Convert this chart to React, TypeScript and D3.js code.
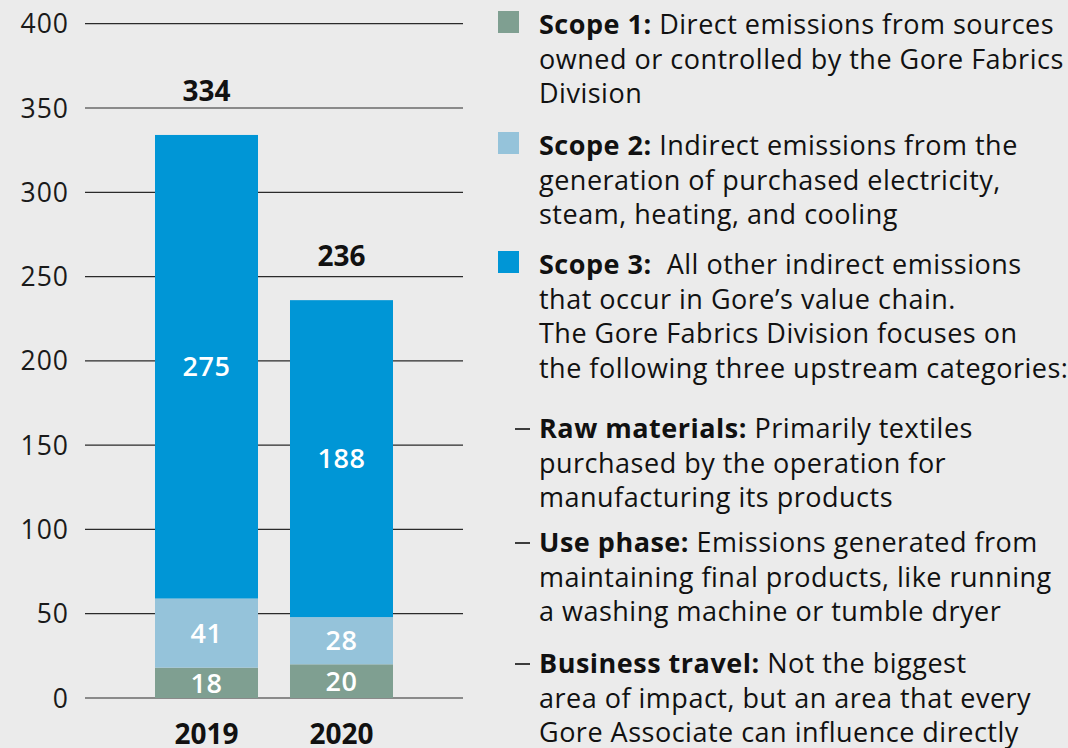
import React, { useEffect, useRef } from "react";
import * as d3 from "d3";

const years = ["2019", "2020"];
const scope1 = [18, 20];
const scope2 = [41, 28];
const scope3 = [275, 188];
const totals = [334, 236];
const yTicks = [0, 50, 100, 150, 200, 250, 300, 350, 400];
const seriesNames = ["Scope 1", "Scope 2", "Scope 3"];
const seriesColors = ["#7f9f91", "#95c3da", "#0096d6"];

const legendBlocks = [
  { key: "Scope 1", marker: "square", bold: "Scope 1:", lines: [" Direct emissions from sources", "owned or controlled by the Gore Fabrics", "Division"] },
  { key: "Scope 2", marker: "square", bold: "Scope 2:", lines: [" Indirect emissions from the", "generation of purchased electricity,", "steam, heating, and cooling"] },
  { key: "Scope 3", marker: "square", bold: "Scope 3:", lines: ["  All other indirect emissions", "that occur in Gore\u2019s value chain.", "The Gore Fabrics Division focuses on", "the following three upstream categories:"] },
  { key: "raw", marker: "dash", bold: "Raw materials:", lines: [" Primarily textiles", "purchased by the operation for", "manufacturing its products"] },
  { key: "use", marker: "dash", bold: "Use phase:", lines: [" Emissions generated from", "maintaining final products, like running", "a washing machine or tumble dryer"] },
  { key: "travel", marker: "dash", bold: "Business travel:", lines: [" Not the biggest", "area of impact, but an area that every", "Gore Associate can influence directly"] },
];

const W = 1068;
const H = 748;
const FONT = "'Open Sans', Roboto, sans-serif";

const App = () => {
  const ref = useRef<SVGSVGElement>(null);

  useEffect(() => {
    const svg = d3.select(ref.current);
    svg.selectAll("*").remove();

    svg.append("rect").attr("width", W).attr("height", H).attr("fill", "#ebebeb");

    const y = d3.scaleLinear().domain([0, 400]).range([698, 23.7]);
    const x = d3.scaleBand().domain(years).range([87.5, 460.5]).paddingInner(0.237).paddingOuter(0.5);

    // gridlines
    const grid = svg.append("g").attr("font-family", FONT);
    grid
      .selectAll("line")
      .data(yTicks)
      .join("line")
      .attr("x1", 85)
      .attr("x2", 463)
      .attr("y1", (d) => y(d))
      .attr("y2", (d) => y(d))
      .attr("stroke", "#2a2a2a")
      .attr("stroke-width", 1.2);
    grid
      .selectAll("text")
      .data(yTicks)
      .join("text")
      .attr("x", 69)
      .attr("y", (d) => y(d))
      .attr("dy", "0.36em")
      .attr("text-anchor", "end")
      .attr("font-size", 26.5)
      .attr("letter-spacing", 1)
      .attr("fill", "#1a1a1a")
      .text((d) => d);

    // stacked bars
    const rows = years.map((yr, i) => ({ year: yr, "Scope 1": scope1[i], "Scope 2": scope2[i], "Scope 3": scope3[i] }));
    const stack = d3.stack<any>().keys(seriesNames)(rows);
    const color = d3.scaleOrdinal<string>().domain(seriesNames).range(seriesColors);

    const layers = svg.append("g").selectAll("g").data(stack).join("g").attr("fill", (d) => color(d.key));
    layers
      .selectAll("rect")
      .data((d) => d)
      .join("rect")
      .attr("x", (d: any) => x(d.data.year)!)
      .attr("width", x.bandwidth())
      .attr("y", (d) => y(d[1]))
      .attr("height", (d) => y(d[0]) - y(d[1]));

    layers
      .selectAll("text")
      .data((d) => d)
      .join("text")
      .attr("x", (d: any) => x(d.data.year)! + x.bandwidth() / 2)
      .attr("y", (d) => (y(d[0]) + y(d[1])) / 2)
      .attr("dy", "0.36em")
      .attr("text-anchor", "middle")
      .attr("font-family", FONT)
      .attr("font-size", 27)
      .attr("letter-spacing", 0.6)
      .attr("font-weight", 600)
      .attr("fill", "#ffffff")
      .text((d) => d[1] - d[0]);

    // totals
    svg
      .append("g")
      .selectAll("text")
      .data(years)
      .join("text")
      .attr("x", (d) => x(d)! + x.bandwidth() / 2)
      .attr("y", (d, i) => y(totals[i]) - 34)
      .attr("text-anchor", "middle")
      .attr("font-family", FONT)
      .attr("font-size", 28)
      .attr("font-weight", 700)
      .attr("fill", "#111")
      .text((d, i) => totals[i]);

    // x labels
    svg
      .append("g")
      .selectAll("text")
      .data(years)
      .join("text")
      .attr("x", (d) => x(d)! + x.bandwidth() / 2)
      .attr("y", 744)
      .attr("text-anchor", "middle")
      .attr("font-family", FONT)
      .attr("font-size", 28)
      .attr("font-weight", 700)
      .attr("fill", "#111")
      .text((d) => d);

    // legend / notes
    const starts = [34, 155, 274, 438, 552, 673];
    const lh = 34.5;
    const leg = svg
      .append("g")
      .attr("font-family", FONT)
      .attr("font-size", 27)
      .attr("letter-spacing", 0.5)
      .attr("fill", "#111");
    legendBlocks.forEach((b, bi) => {
      const y0 = starts[bi];
      if (b.marker === "square") {
        leg
          .append("rect")
          .attr("x", 498)
          .attr("y", y0 - 23)
          .attr("width", 21)
          .attr("height", 22)
          .attr("fill", color(b.key));
      } else {
        leg
          .append("line")
          .attr("x1", 515)
          .attr("x2", 530)
          .attr("y1", y0 - 9)
          .attr("y2", y0 - 9)
          .attr("stroke", "#111")
          .attr("stroke-width", 1.6);
      }
      b.lines.forEach((ln, li) => {
        const t = leg.append("text").attr("x", 539).attr("y", y0 + li * lh).attr("xml:space", "preserve");
        if (li === 0) {
          t.append("tspan").attr("font-weight", 700).text(b.bold);
        }
        t.append("tspan").text(ln);
      });
    });
  }, []);

  return (
    <div style={{ position: "fixed", left: 0, top: 0 }}>
      <svg ref={ref} width={W} height={H} style={{ display: "block" }} />
    </div>
  );
};

export default App;
